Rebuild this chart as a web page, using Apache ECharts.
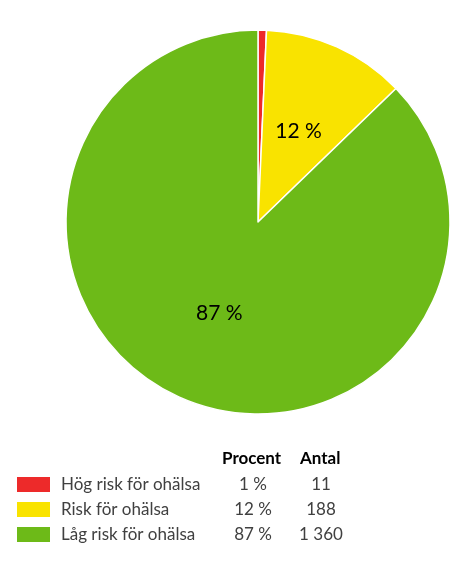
<!DOCTYPE html>
<html><head><meta charset="utf-8">
<script src="https://cdn.jsdelivr.net/npm/echarts@6/dist/echarts.min.js"></script>
<style>html,body{margin:0;padding:0;background:#fff}#c{width:459px;height:570px}</style>
</head><body><div id="c"></div>
<script>
const categories = ['Hög risk för ohälsa', 'Risk för ohälsa', 'Låg risk för ohälsa'];
const counts = [11, 188, 1360];
const percents = [1, 12, 87];
const colors = ['#ED2A2A', '#F9E300', '#6DBA18'];
const headers = ['Procent', 'Antal'];

const fmtNum = n => String(n).replace(/\B(?=(\d{3})+(?!\d))/g, ' ');
const FONT = 'Lato';
const FS = 17;

const chart = echarts.init(document.getElementById('c'), null, {renderer: 'canvas'});
chart.setOption({
  animation: false,
  color: colors,
  legend: {
    orient: 'vertical', left: 15, top: 475, itemWidth: 35, itemHeight: 17, itemGap: 6,
    padding: 0,
    icon: 'rect', selectedMode: false,
    data: categories,
    formatter: name => {
      const i = categories.indexOf(name);
      return '{n|' + name + '}{p|' + percents[i] + ' %}{c|' + fmtNum(counts[i]) + '}';
    },
    textStyle: {
      fontFamily: FONT, fontSize: FS, color: '#404040', lineHeight: 17,
      rich: {
        n: {width: 157, fontFamily: FONT, fontSize: FS, color: '#404040', lineHeight: 17, padding: [0,0,0,5]},
        p: {width: 70, align: 'center', fontFamily: FONT, fontSize: FS, color: '#404040', lineHeight: 17},
        c: {width: 66, align: 'center', fontFamily: FONT, fontSize: FS, color: '#404040', lineHeight: 17}
      }
    }
  },
  graphic: headers.map((h, i) => ({
    type: 'text', left: [222, 300][i], top: 450,
    style: {text: h, font: 'bold ' + FS + 'px ' + FONT, fill: '#000'}
  })),
  series: [{
    type: 'pie', center: [258, 222], radius: 192, startAngle: 90, clockwise: true,
    data: categories.map((c, i) => ({
      name: c, value: counts[i],
      label: {show: i > 0}
    })),
    label: {
      position: 'inner', formatter: p => percents[p.dataIndex] + ' %',
      fontFamily: FONT, fontSize: 21, color: '#000'
    },
    labelLine: {show: false},
    itemStyle: {borderColor: '#fff', borderWidth: 1.5},
    emphasis: {disabled: true}
  }]
});
</script></body></html>
